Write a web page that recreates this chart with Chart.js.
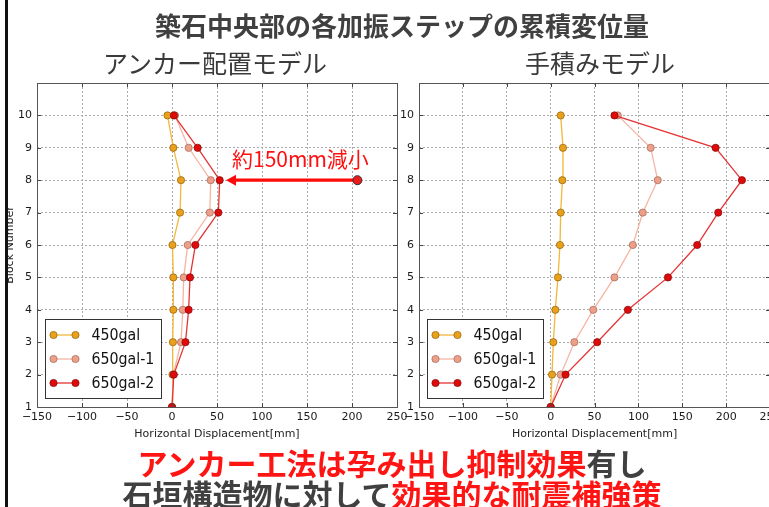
<!DOCTYPE html>
<html>
<head>
<meta charset="utf-8">
<script src="https://cdn.jsdelivr.net/npm/chart.js@4.4.1/dist/chart.umd.min.js"></script>
<style>
  html, body { margin: 0; padding: 0; background: #fff; overflow: hidden; }
  #wrap { position: relative; width: 769px; height: 507px; overflow: hidden; background: #fff; }
  canvas { position: absolute; top: 0; }
  .txt { position: absolute; white-space: nowrap; font-family: "Noto Sans CJK JP", "Noto Sans", sans-serif;
         transform: translate(-50%, -50%); line-height: 1; }
  .red { color: #ff1414; }
  .gray { color: #404040; }
  #edge { position: absolute; left: 5px; top: 0; width: 3px; height: 507px; background: #111; }
</style>
</head>
<body>
<div id="wrap">
  <canvas id="left" width="420" height="450" style="left:0px;width:420px;height:450px"></canvas>
  <canvas id="right" width="400" height="450" style="left:400px;width:400px;height:450px"></canvas>
  <div id="edge"></div>
  <div class="txt gray" style="left:402px;top:25px;font-size:26px;font-weight:bold;">築石中央部の各加振ステップの累積変位量</div>
  <div class="txt" style="left:215px;top:62px;font-size:25px;color:#3a3a3a;">アンカー配置モデル</div>
  <div class="txt" style="left:600px;top:62px;font-size:25px;color:#3a3a3a;">手積みモデル</div>
  <div class="txt" style="left:392px;top:462px;font-size:30px;font-weight:bold;"><span class="red">アンカー工法は孕み出し抑制効果</span><span class="gray">有し</span></div>
  <div class="txt" style="left:392px;top:493px;font-size:30px;font-weight:bold;"><span class="gray">石垣構造物に対して</span><span class="red">効果的な耐震補強策</span></div>
</div>
<script>
// Block numbers (bottom = 1, top = 10)
const blocks = [1, 2, 3, 4, 5, 6, 7, 8, 9, 10];
const seriesNames = ['450gal', '650gal-1', '650gal-2'];

// Cumulative horizontal displacement [mm] per block — anchor model
const anchor450 = [0, 0.5, 1, 1.5, 1.5, 0.5, 9, 10, 1.5, -5];
const anchor650a = [0, 1.5, 10, 12, 13, 17.5, 42, 43, 18.5, 3.3];
const anchor650b = [0, 2, 15, 18.5, 20, 26, 51.5, 53, 28.5, 2.2];

// Cumulative horizontal displacement [mm] per block — hand-stacked model
const hand450 = [0, 1.5, 3, 5.3, 8.3, 10.6, 11.4, 13.3, 14, 11.4];
const hand650a = [0, 11.4, 27, 48.5, 72.7, 93.6, 105, 122, 114, 76.5];
const hand650b = [0, 17, 53, 88, 133.7, 167, 191, 218, 188, 72.7];

// Axis ranges and ticks
const xTicks = [-150, -100, -50, 0, 50, 100, 150, 200, 250];
const yTicks = [1, 2, 3, 4, 5, 6, 7, 8, 9, 10];

// Reduction arrow: from the hand-stacked peak to the anchored peak
const arrowBlock = 8;
const arrowFrom = 206;
const arrowTo = 60;
const arrowLabel = '約150mm減小';

const styles = [
  { line: '#f3b73a', fill: '#e9a11c', edge: '#9a6a10', order: 3 },
  { line: '#f6b5a3', fill: '#ee9f88', edge: '#a8705f', order: 2 },
  { line: '#e43434', fill: '#e00a0a', edge: '#8a0d0d', order: 1 }
];

function makeDatasets(values) {
  return values.map((vals, i) => ({
    label: seriesNames[i],
    data: vals.map((v, k) => ({ x: v, y: blocks[k] })),
    showLine: true,
    borderColor: styles[i].line,
    borderWidth: 1.3,
    backgroundColor: styles[i].fill,
    pointBackgroundColor: styles[i].fill,
    pointBorderColor: styles[i].edge,
    pointBorderWidth: 0.8,
    pointRadius: 3.6,
    pointHoverRadius: 3.6,
    tension: 0,
    order: styles[i].order
  }));
}

const tickFont = { family: 'DejaVu Sans', size: 11 };
const fmt = v => (v < 0 ? '\u2212' + Math.abs(v) : String(v));

// Frame, inward tick marks, matplotlib-like legend and optional annotation
function framePlugin(withArrow) {
  return {
    id: 'frameLegend',
    afterDatasetsDraw(chart) {
      const { ctx, chartArea: a, scales } = chart;
      const xs = scales.x, ys = scales.y;
      ctx.save();
      // inward ticks
      ctx.strokeStyle = '#444';
      ctx.lineWidth = 1;
      ctx.beginPath();
      xTicks.forEach(t => {
        const px = Math.round(xs.getPixelForValue(t)) + 0.5;
        ctx.moveTo(px, a.top); ctx.lineTo(px, a.top + 4);
        ctx.moveTo(px, a.bottom); ctx.lineTo(px, a.bottom - 4);
      });
      yTicks.forEach(t => {
        const py = Math.round(ys.getPixelForValue(t)) + 0.5;
        ctx.moveTo(a.left, py); ctx.lineTo(a.left + 4, py);
        ctx.moveTo(a.right, py); ctx.lineTo(a.right - 4, py);
      });
      ctx.stroke();
      // frame
      ctx.strokeStyle = '#555';
      ctx.strokeRect(Math.round(a.left) + 0.5, Math.round(a.top) + 0.5,
                     Math.round(a.right - a.left), Math.round(a.bottom - a.top));

      // annotation arrow
      if (withArrow) {
        const y8 = ys.getPixelForValue(arrowBlock);
        const x0 = xs.getPixelForValue(arrowFrom);
        const x1 = xs.getPixelForValue(arrowTo);
        ctx.strokeStyle = '#ff0a0a';
        ctx.fillStyle = '#ff0a0a';
        ctx.lineWidth = 3.2;
        ctx.beginPath();
        ctx.moveTo(x0, y8); ctx.lineTo(x1 + 8, y8);
        ctx.stroke();
        ctx.beginPath();
        ctx.moveTo(x1, y8); ctx.lineTo(x1 + 10, y8 - 5.5); ctx.lineTo(x1 + 10, y8 + 5.5); ctx.closePath();
        ctx.fill();
        ctx.beginPath();
        ctx.arc(x0, y8, 4.5, 0, Math.PI * 2);
        ctx.fillStyle = '#ee1a1a';
        ctx.fill();
        ctx.lineWidth = 1;
        ctx.strokeStyle = '#333';
        ctx.stroke();
        ctx.fillStyle = '#ff1010';
        ctx.font = '21px "Noto Sans CJK JP"';
        ctx.textAlign = 'left';
        ctx.textBaseline = 'middle';
        ctx.fillText(arrowLabel, x1 + 6, y8 - 21);
      }

      // legend box (lower left)
      const bx = Math.round(a.left) + 8.5, bw = 116, bh = 79;
      const by = Math.round(a.bottom) - 8.5 - bh;
      ctx.fillStyle = '#fff';
      ctx.fillRect(bx, by, bw, bh);
      ctx.strokeStyle = '#333';
      ctx.lineWidth = 1;
      ctx.strokeRect(bx, by, bw, bh);
      chart.data.datasets.forEach((ds, i) => {
        const ry = by + 15.5 + i * 24;
        const lx0 = bx + 8, lx1 = bx + 30;
        ctx.strokeStyle = ds.borderColor;
        ctx.lineWidth = 1.3;
        ctx.beginPath(); ctx.moveTo(lx0, ry); ctx.lineTo(lx1, ry); ctx.stroke();
        [lx0, lx1].forEach(px => {
          ctx.beginPath();
          ctx.arc(px, ry, 3.6, 0, Math.PI * 2);
          ctx.fillStyle = ds.pointBackgroundColor;
          ctx.fill();
          ctx.lineWidth = 0.8;
          ctx.strokeStyle = ds.pointBorderColor;
          ctx.stroke();
        });
        ctx.save();
        ctx.translate(bx + 46, ry + 1);
        ctx.scale(0.86, 1);
        ctx.fillStyle = '#111';
        ctx.font = '16.5px "DejaVu Sans"';
        ctx.textAlign = 'left';
        ctx.textBaseline = 'middle';
        ctx.fillText(ds.label, 0, 0);
        ctx.restore();
      });
      ctx.restore();
    }
  };
}

function makeChart(id, values, yWidth, padRight, withArrow, showYTitle) {
  return new Chart(document.getElementById(id), {
    type: 'scatter',
    data: { datasets: makeDatasets(values) },
    options: {
      responsive: false,
      animation: false,
      events: [],
      layout: { padding: { top: 83, right: padRight, left: 0, bottom: 0 } },
      plugins: { legend: { display: false }, tooltip: { enabled: false } },
      scales: {
        x: {
          type: 'linear', min: -150, max: 250,
          afterBuildTicks: s => { s.ticks = xTicks.map(v => ({ value: v })); },
          afterFit: s => { s.height = 43; },
          grid: { color: '#ababab', lineWidth: 1, drawTicks: false },
          border: { display: false, dash: [2, 2] },
          ticks: { font: tickFont, color: '#1a1a1a', padding: 4, maxRotation: 0, callback: fmt },
          title: { display: true, text: 'Horizontal Displacement[mm]', font: { family: 'DejaVu Sans', size: 11 },
                   color: '#222', padding: { top: 0, bottom: 9 } }
        },
        y: {
          type: 'linear', min: 1, max: 11,
          afterBuildTicks: s => { s.ticks = yTicks.map(v => ({ value: v })); },
          afterFit: s => { s.width = yWidth; },
          grid: { color: '#ababab', lineWidth: 1, drawTicks: false },
          border: { display: false, dash: [2, 2] },
          ticks: { font: tickFont, color: '#1a1a1a', padding: 5, callback: fmt },
          title: { display: showYTitle, text: 'Block Number', font: { family: 'DejaVu Sans', size: 11 },
                   color: '#222', padding: { top: 4, bottom: 0 } }
        }
      }
    },
    plugins: [framePlugin(withArrow)]
  });
}

makeChart('left', [anchor450, anchor650a, anchor650b], 37, 23, true, true);
makeChart('right', [hand450, hand650a, hand650b], 18, 30, false, false);
</script>
</body>
</html>
